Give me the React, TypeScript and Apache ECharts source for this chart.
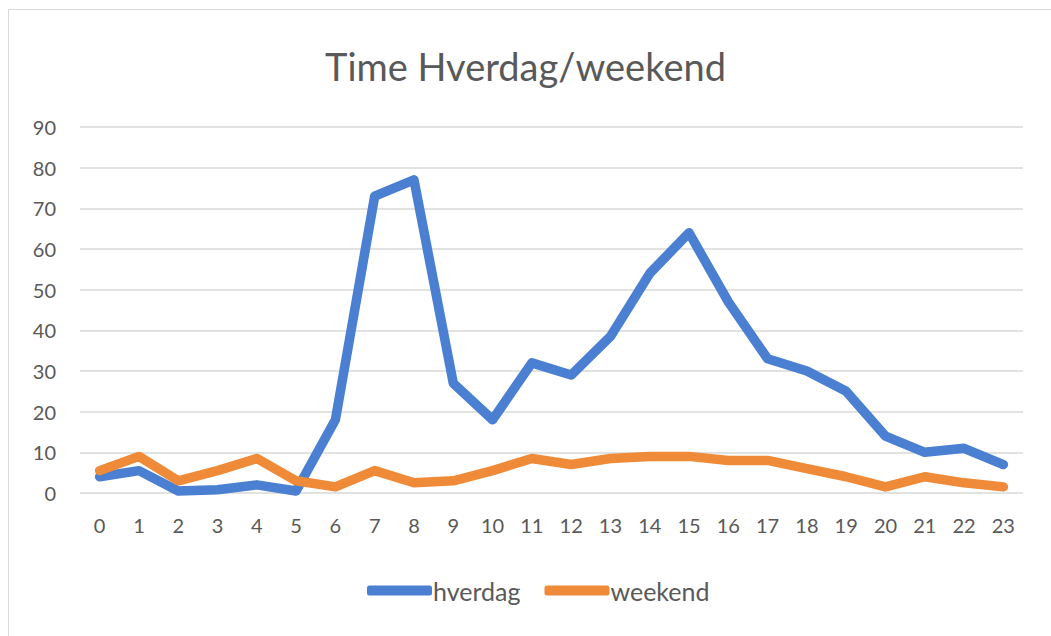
import React, { useEffect, useRef } from "react";
import * as echarts from "echarts";

const hours = ["0","1","2","3","4","5","6","7","8","9","10","11","12","13","14","15","16","17","18","19","20","21","22","23"];
const hverdag = [4, 5.5, 0.5, 0.8, 2, 0.5, 18, 73, 77, 27, 18, 32, 29, 38.5, 54, 64, 47, 33, 30, 25, 14, 10, 11, 7];
const weekend = [5.5, 9, 3, 5.5, 8.5, 3, 1.5, 5.5, 2.5, 3, 5.5, 8.5, 7, 8.5, 9, 9, 8, 8, 6, 4, 1.5, 4, 2.5, 1.5];
const yTicks = [0, 90, 10];
const title = "Time Hverdag/weekend";

const FONT = "Lato, 'Open Sans', sans-serif";

export default function App() {
  const ref = useRef<HTMLDivElement>(null);
  useEffect(() => {
    const chart = echarts.init(ref.current!, null, { renderer: "svg" });
    chart.setOption({
      animation: false,
      backgroundColor: "#ffffff",
      title: {
        text: title,
        left: "center",
        top: 42,
        textStyle: { fontFamily: FONT, fontSize: 38, fontWeight: "normal", color: "#595959" },
      },
      graphic: [
        {
          type: "rect",
          shape: { x: 8.5, y: 9.5, width: 1100, height: 700 },
          style: { fill: "none", stroke: "#d9d9d9", lineWidth: 1 },
          silent: true,
        },
      ],
      grid: { left: 80, right: 28, top: 127, bottom: 143, containLabel: false },
      legend: {
        bottom: 28,
        left: 362,
        itemWidth: 65,
        itemHeight: 10,
        itemGap: 24,
        icon: "roundRect",
        textStyle: { fontFamily: FONT, fontSize: 25, color: "#595959", padding: [0, 0, 0, -4] },
        data: ["hverdag", "weekend"],
      },
      xAxis: {
        type: "category",
        data: hours,
        boundaryGap: true,
        axisLine: { show: false },
        axisTick: { show: false },
        axisLabel: { fontFamily: FONT, fontSize: 20, color: "#595959", margin: 22 },
      },
      yAxis: {
        type: "value",
        min: yTicks[0],
        max: yTicks[1],
        interval: yTicks[2],
        axisLine: { show: false },
        axisTick: { show: false },
        axisLabel: { fontFamily: FONT, fontSize: 20, color: "#595959", margin: 24 },
        splitLine: { lineStyle: { color: "#d9d9d9", width: 1.5 } },
      },
      series: [
        {
          name: "hverdag",
          type: "line",
          data: hverdag,
          showSymbol: false,
          symbol: "none",
          itemStyle: { color: "#4a7fd1" },
          lineStyle: { color: "#4a7fd1", width: 9.5, join: "round", cap: "round" },
        },
        {
          name: "weekend",
          type: "line",
          data: weekend,
          showSymbol: false,
          symbol: "none",
          itemStyle: { color: "#ef8b38" },
          lineStyle: { color: "#ef8b38", width: 9.5, join: "round", cap: "round" },
        },
      ],
    });
    return () => chart.dispose();
  }, []);
  return (
    <div
      ref={ref}
      style={{ position: "absolute", left: 0, top: 0, width: 1051, height: 636 }}
    />
  );
}
